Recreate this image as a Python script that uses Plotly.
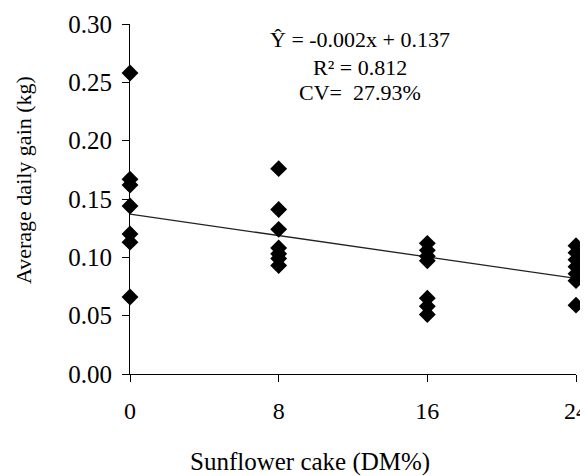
import plotly.graph_objects as go

# Data
x_levels = [0, 8, 16, 24]
adg_0 = [0.258, 0.167, 0.162, 0.144, 0.120, 0.113, 0.066]
adg_8 = [0.176, 0.141, 0.124, 0.108, 0.103, 0.099, 0.093]
adg_16 = [0.112, 0.106, 0.101, 0.097, 0.065, 0.058, 0.051]
adg_24 = [0.110, 0.104, 0.098, 0.092, 0.086, 0.080, 0.059]
fit_x = [0, 24]
fit_y = [0.137, 0.082]
y_ticks = [0.00, 0.05, 0.10, 0.15, 0.20, 0.25, 0.30]
x_ticks = [0, 8, 16, 24]
eq_lines = ["Ŷ = -0.002x + 0.137", "R² = 0.812", "CV=  27.93%"]
x_title = "Sunflower cake (DM%)"
y_title = "Average daily gain (kg)"

xs, ys = [], []
for lvl, vals in zip(x_levels, [adg_0, adg_8, adg_16, adg_24]):
    xs += [lvl] * len(vals)
    ys += vals

FONT = "Liberation Serif, Times New Roman, serif"
W, H = 580, 468
ML, MR, MT, MB = 122, 12, 16, 102

fig = go.Figure()
fig.add_trace(go.Scatter(x=fit_x, y=fit_y, mode="lines",
                         line=dict(color="#222", width=1.3),
                         hoverinfo="skip", showlegend=False, cliponaxis=False))
fig.add_trace(go.Scatter(x=xs, y=ys, mode="markers",
                         marker=dict(symbol="diamond", size=13, color="black",
                                     line=dict(width=0)),
                         showlegend=False, cliponaxis=False))

ann_y = [0.2865, 0.2625, 0.2415]
for txt, yy in zip(eq_lines, ann_y):
    fig.add_annotation(x=12.4, y=yy, xref="x", yref="y", text=txt,
                       showarrow=False, xanchor="center", yanchor="middle",
                       font=dict(family=FONT, size=22, color="black"))

pw, ph = W - ML - MR, H - MT - MB
# x-axis title (page centre ~ x 310, y 462)
fig.add_annotation(xref="paper", yref="paper",
                   x=(310 - 8 - ML) / pw, y=(H - MB - (462 - 8)) / ph,
                   text=x_title, showarrow=False, xanchor="center", yanchor="middle",
                   font=dict(family=FONT, size=25, color="black"))
# y-axis title (page centre ~ x 23, y 180)
fig.add_annotation(xref="paper", yref="paper",
                   x=(23 - 8 - ML) / pw, y=(H - MB - (180 - 8)) / ph,
                   text=y_title, textangle=-90, showarrow=False,
                   xanchor="center", yanchor="middle",
                   font=dict(family=FONT, size=22, color="black"))

fig.update_layout(
    width=W, height=H,
    margin=dict(l=ML, r=MR, t=MT, b=MB),
    paper_bgcolor="white", plot_bgcolor="white",
    font=dict(family=FONT, color="black"),
)
fig.update_xaxes(range=[0, 24], tickvals=x_ticks, ticktext=[str(v) for v in x_ticks],
                 automargin=False,
                 showgrid=False, zeroline=False, showline=True, linecolor="black",
                 linewidth=1, ticks="outside", ticklen=7, tickcolor="black",
                 tickfont=dict(family=FONT, size=24, color="black"),
                 ticklabelstandoff=8)
fig.update_yaxes(range=[0, 0.3], tickvals=y_ticks, ticktext=[f"{v:.2f}" for v in y_ticks],
                 automargin=False,
                 showgrid=False, zeroline=False, showline=True, linecolor="black",
                 linewidth=1, ticks="outside", ticklen=7, tickcolor="black",
                 tickfont=dict(family=FONT, size=25, color="black"),
                 ticklabelstandoff=5)

fig.write_html("out.html")
